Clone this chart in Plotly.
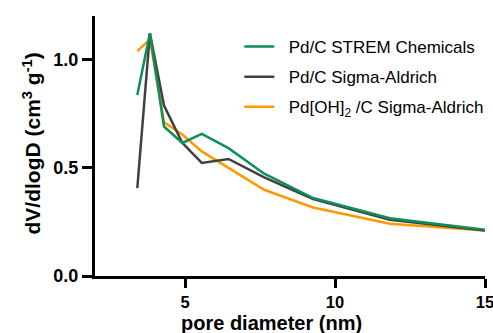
import plotly.graph_objects as go

pore_diameter = [3.41, 3.83, 4.30, 4.91, 5.56, 6.45, 7.64, 9.27, 11.83, 15.0]
strem = [0.835, 1.12, 0.69, 0.614, 0.656, 0.59, 0.472, 0.36, 0.267, 0.213]
sigma = [0.406, 1.12, 0.787, 0.615, 0.522, 0.54, 0.455, 0.355, 0.26, 0.21]
pdoh = [1.038, 1.092, 0.71, 0.653, 0.575, 0.498, 0.398, 0.316, 0.241, 0.21]

names = ["Pd/C STREM Chemicals", "Pd/C Sigma-Aldrich", "Pd[OH]<sub>2</sub> /C Sigma-Aldrich"]
colors = ["#0f8f55", "#404040", "#ff9900"]
series = [strem, sigma, pdoh]

x_title = "<b>pore diameter (nm)</b>"
y_title = "<b>dV/dlogD (cm<sup>3</sup> g<sup>-1</sup>)</b>"

fig = go.Figure()
# draw order: orange below, grey, green on top
for i in [2, 1, 0]:
    fig.add_trace(go.Scatter(
        x=pore_diameter, y=series[i], mode="lines", name="\u00a0\u00a0" + names[i],
        line=dict(color=colors[i], width=2.5), legendgroup=str(i),
        legendrank=i + 1,
    ))

fig.update_layout(
    width=510, height=333,
    margin=dict(l=95, r=25, t=16, b=57),
    paper_bgcolor="white", plot_bgcolor="white",
    font=dict(family="Liberation Sans, Arial, sans-serif", color="black"),
    showlegend=True,
    legend=dict(
        x=0.37, y=0.95, xanchor="left", yanchor="top",
        font=dict(size=17, color="black"),
        traceorder="grouped", tracegroupgap=5,
        bgcolor="rgba(0,0,0,0)", itemwidth=30,
    ),
    xaxis=dict(
        range=[2, 15], tickvals=[5, 10, 15], ticktext=["5", "10", "15"],
        showgrid=False, zeroline=False,
        showline=True, linecolor="black", linewidth=3,
        ticks="outside", ticklen=9, tickwidth=3, tickcolor="black",
        tickfont=dict(size=16.5, family="Liberation Sans, Arial, sans-serif", weight="bold"),
        ticklabeloverflow="allow",
        automargin=False,
    ),
    yaxis=dict(
        range=[0, 1.2], tickvals=[0, 0.5, 1.0], ticktext=["0.0", "0.5", "1.0"],
        showgrid=False, zeroline=False,
        showline=True, linecolor="black", linewidth=3,
        ticks="outside", ticklen=10, tickwidth=3, tickcolor="black",
        tickfont=dict(size=18, family="Liberation Sans, Arial, sans-serif", weight="bold"),
        automargin=False,
    ),
    annotations=[
        dict(text=x_title, xref="paper", yref="paper", x=(271.5 - 95) / 390, y=0,
             xanchor="center", yanchor="middle", yshift=-47, showarrow=False,
             font=dict(size=20, color="black")),
        dict(text=y_title, xref="paper", yref="paper", x=0, y=(276 - 143.5) / 260,
             xanchor="center", yanchor="middle", xshift=-64, textangle=-90,
             showarrow=False, font=dict(size=21, color="black")),
    ],
)

fig.write_html("out.html", config={"displayModeBar": False},
               post_script="document.body.style.margin='0';document.body.style.overflow='hidden';")
